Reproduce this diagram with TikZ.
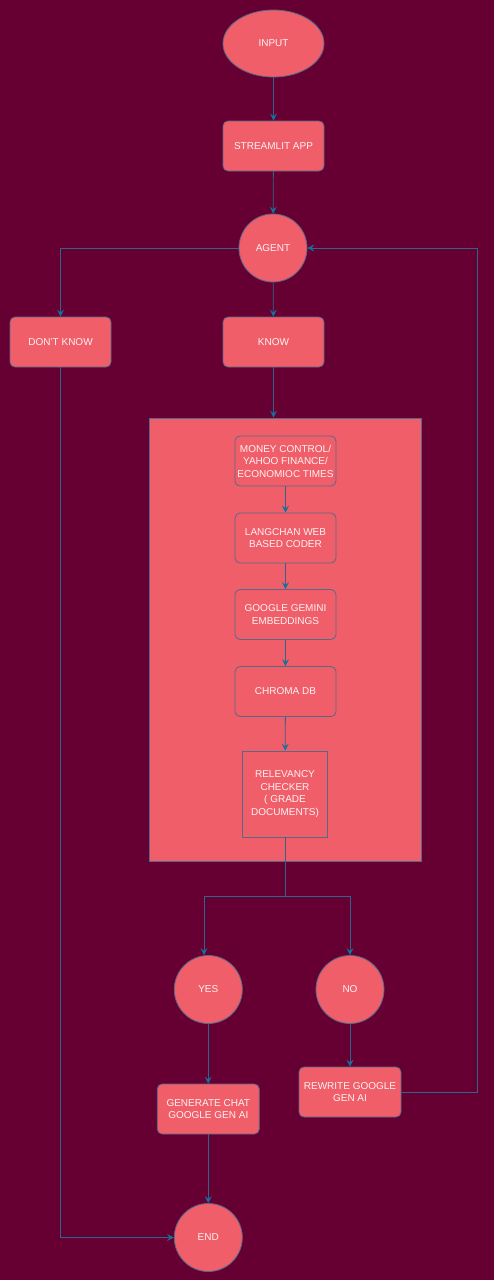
\documentclass[tikz,border=0pt]{standalone}
\usepackage{fontspec}
\setmainfont{Liberation Sans}
\usetikzlibrary{arrows.meta,positioning,shapes.geometric}
\definecolor{bgc}{RGB}{102,0,51}
\definecolor{fillc}{RGB}{240,94,106}
\definecolor{linec}{RGB}{48,100,138}
\definecolor{tipc}{RGB}{16,115,158}
\definecolor{bordc}{RGB}{86,106,136}
\definecolor{txtc}{RGB}{255,242,242}
\tikzset{
  base/.style={draw=bordc, fill=fillc, line width=0.8pt, text=txtc, align=center,
    font=\fontsize{10}{12.5}\selectfont, inner sep=1pt},
  rbox/.style={base, rectangle, rounded corners=5pt, minimum width=101pt, minimum height=50pt},
  circ/.style={base, circle, minimum size=68pt},
  oval/.style={base, ellipse, minimum width=101pt, minimum height=67pt},
  conn/.style={draw=linec, line width=0.8pt},
  arr/.style={conn, -{Stealth[length=7pt,width=7pt,inset=2.8pt,color=tipc,fill=tipc]}}
}
\begin{document}
\begin{tikzpicture}[x=1pt,y=-1pt]
\fill[bgc] (0,0) rectangle (494,1280);
\useasboundingbox (0,0) rectangle (494,1280);

\node[oval] (input) at (273.5,43.5) {INPUT};
\node[rbox] (app) at (273.5,146) {STREAMLIT APP};
\node[circ] (agent) at (273,248) {AGENT};
\node[rbox] (dk) at (60.5,342) {DON'T KNOW};
\node[rbox] (know) at (273.5,342) {KNOW};

\node[draw=bordc, fill=fillc, line width=0.8pt, minimum width=272pt, minimum height=443pt, inner sep=0pt] (big) at (285,639.5) {};

\node[rbox] (money) at (285.5,461) {MONEY CONTROL/\\YAHOO FINANCE/\\ECONOMIOC TIMES};
\node[rbox] (lang) at (285.5,538) {LANGCHAN WEB\\BASED CODER};
\node[rbox] (gem) at (285.5,614.5) {GOOGLE GEMINI\\EMBEDDINGS};
\node[rbox] (chroma) at (285.5,691.5) {CHROMA DB};
\node[base, rectangle, minimum width=85pt, minimum height=86pt] (rel) at (285,794) {RELEVANCY\\CHECKER\\( GRADE\\DOCUMENTS)};

\node[circ] (yes) at (208.3,989.5) {YES};
\node[circ] (no) at (350,989.5) {NO};
\node[rbox, minimum width=102pt] (gen) at (208.3,1109) {GENERATE CHAT\\GOOGLE GEN AI};
\node[rbox, minimum width=102pt] (rw) at (350,1092) {REWRITE GOOGLE\\GEN AI};
\node[circ] (end) at (208.3,1237.5) {END};

\coordinate (split) at (285,896);
\coordinate (yesx) at (204,896);
\coordinate (rloop) at (477,1092);

\draw[arr] (input) -- (app);
\draw[arr] (app) -- (agent);
\draw[arr] (agent.west) -| (dk.north);
\draw[arr] (agent) -- (know);
\draw[arr] (know.south) -- (know.south |- big.north);
\draw[arr] (money) -- (lang);
\draw[arr] (lang) -- (gem);
\draw[arr] (gem) -- (chroma);
\draw[arr] (chroma) -- (rel);
\draw[conn] (rel.south) -- (split);
\draw[arr] (split) -- (yesx) -- (yesx |- yes.north);
\draw[arr] (split) -| (no.north);
\draw[arr] (yes) -- (gen);
\draw[arr] (no) -- (rw);
\draw[arr] (gen) -- (end);
\draw[arr] (dk.south) |- (end.west);
\draw[arr] (rw.east) -- (rloop) |- (agent.east);
\end{tikzpicture}
\end{document}
